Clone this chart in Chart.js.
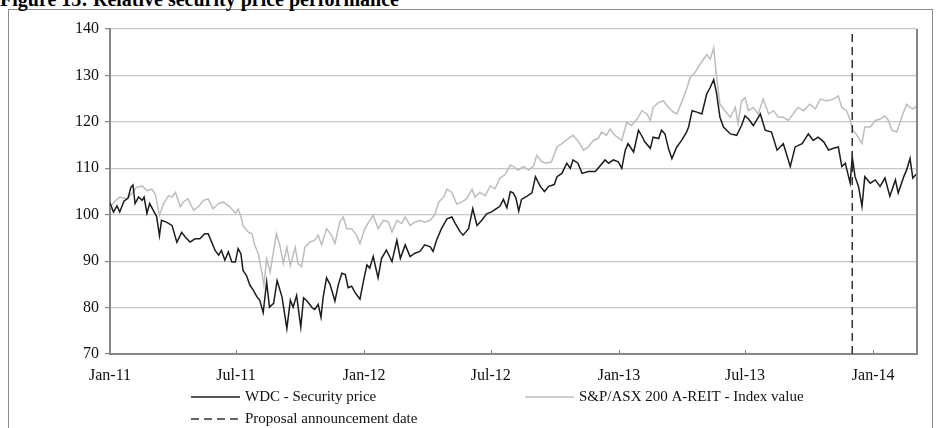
<!DOCTYPE html>
<html>
<head>
<meta charset="utf-8">
<title>Relative security price performance</title>
<script src="https://cdn.jsdelivr.net/npm/chart.js@4.4.1/dist/chart.umd.min.js"></script>
<style>
  html, body { margin: 0; padding: 0; background: #fff; }
  #wrap { position: relative; width: 941px; height: 428px; overflow: hidden; }
  #frame { position: absolute; left: 8px; top: 9px; width: 925px; height: 440px; border: 1px solid #8c8c8c; box-sizing: border-box; }
  #title { position: absolute; left: 0; top: -11px; font: bold 20px "Liberation Serif", "Times New Roman", serif; line-height: 20px; color: #000; white-space: nowrap; }
  #chart { position: absolute; left: 0; top: 0; }
</style>
</head>
<body>
<div id="wrap">
  <div id="frame"></div>
  <div id="title">Figure 13: Relative security price performance</div>
  <canvas id="chart" width="941" height="428"></canvas>
</div>
<script>
// Days counted from 1 Jan 2011
const tickDays = [0, 181, 365, 547, 731, 912, 1096];
const tickLabels = ['Jan-11', 'Jul-11', 'Jan-12', 'Jul-12', 'Jan-13', 'Jul-13', 'Jan-14'];
const lastDay = 1159;
const announcementDay = 1066;

// WDC - Security price (rebased to 100)
const wdcDays = [0, 5, 10, 14, 20, 26, 30, 33, 36, 41, 46, 49, 53, 57, 62, 67, 71, 74, 81, 89,
  96, 103, 108, 115, 122, 129, 136, 141, 146, 151, 156, 160, 165, 170, 175, 180, 184, 188, 191, 196,
  201, 206, 211, 215, 220, 225, 229, 235, 240, 247, 254, 259, 263, 268, 274, 278, 283, 290, 294, 299,
  303, 306, 311, 316, 323, 328, 333, 338, 342, 347, 352, 359, 364, 369, 373, 378, 385, 390, 397, 405,
  412, 417, 424, 431, 438, 445, 452, 460, 464, 469, 476, 484, 491, 496, 503, 507, 515, 521, 527, 534,
  541, 548, 555, 560, 565, 570, 575, 579, 583, 587, 591, 599, 606, 611, 618, 624, 630, 638, 642, 649,
  656, 661, 665, 672, 678, 687, 697, 701, 711, 716, 723, 730, 735, 740, 744, 752, 759, 764, 768, 776,
  780, 788, 792, 797, 802, 807, 814, 821, 828, 831, 836, 843, 850, 857, 862, 867, 871, 876, 881, 891,
  900, 907, 912, 917, 924, 934, 941, 950, 958, 967, 977, 984, 994, 1003, 1010, 1017, 1025, 1032, 1039, 1046,
  1051, 1056, 1063, 1066, 1070, 1075, 1080, 1084, 1092, 1099, 1106, 1113, 1120, 1128, 1132, 1140, 1144, 1149, 1153, 1159];
const wdcValues = [102.5, 100.6, 101.9, 100.6, 102.9, 103.6, 105.9, 106.4, 102.4, 103.8, 103.1, 103.8, 100.3, 102.4, 101, 99.6, 95.5, 98.8, 98.4, 97.7,
  94.1, 96.2, 95.2, 94.1, 94.8, 94.8, 95.9, 95.9, 94.1, 92.3, 91.3, 92.3, 90.2, 92, 89.8, 89.8, 92.7, 91.6, 88, 86.9,
  84.8, 83.7, 82.3, 81.6, 78.9, 85.5, 80.1, 80.9, 85.8, 82.3, 75.5, 81.6, 80.1, 82.6, 75.8, 82.1, 81.4, 80, 79.6, 80.7,
  77.9, 82.1, 86.4, 85, 81.4, 85, 87.4, 87.1, 84.3, 84.6, 83.2, 81.8, 85.7, 89.2, 88.5, 91, 86.4, 90.6, 92.4, 89.9,
  94.5, 90.6, 93.5, 91, 91.7, 92.1, 93.5, 93.1, 92.1, 94.5, 97, 99.1, 99.5, 98.1, 96.3, 95.6, 97, 101.3, 97.7, 98.8,
  100.2, 100.6, 101.3, 101.8, 103.3, 101.5, 105, 104.7, 103.6, 100.8, 103.3, 104, 104.7, 108.2, 106.1, 105, 106.1, 106.5, 108.2, 108.9,
  111.1, 110, 111.8, 111.1, 108.9, 109.3, 109.3, 110, 111.8, 111.1, 111.8, 111.4, 110, 113.9, 115.3, 113.5, 118.2, 116.9, 115.7, 114.3,
  116.7, 116.4, 118.2, 117.4, 114.3, 112.1, 114.6, 116, 117.8, 118.9, 122.4, 122.1, 121.7, 126, 127.4, 129.1, 126.3, 121, 118.9, 117.4,
  117.1, 119.2, 121.3, 120.6, 119.2, 121.7, 118.2, 117.8, 113.9, 115.3, 110.4, 114.6, 115.3, 117.4, 116, 116.7, 115.7, 113.9, 114.3, 114.6,
  110.4, 111.1, 106.8, 112.5, 108.2, 106.1, 101.8, 108.2, 106.8, 107.5, 106.1, 107.9, 104, 107.5, 104.7, 108.2, 109.6, 112.1, 107.9, 108.9];

// S&P/ASX 200 A-REIT - Index value (rebased to 100)
const reitDays = [0, 7, 14, 24, 31, 38, 46, 53, 60, 65, 71, 77, 84, 89, 94, 101, 105, 112, 120, 127,
  134, 141, 148, 156, 163, 172, 180, 184, 188, 191, 199, 204, 208, 213, 218, 221, 225, 230, 235, 239,
  244, 249, 254, 259, 266, 270, 275, 280, 287, 294, 299, 304, 311, 318, 323, 330, 335, 340, 347, 354,
  359, 366, 373, 378, 385, 393, 400, 405, 412, 419, 424, 431, 438, 445, 452, 460, 467, 472, 479, 484,
  491, 498, 505, 512, 520, 524, 531, 539, 546, 553, 560, 567, 575, 579, 586, 594, 601, 608, 613, 620,
  627, 634, 642, 649, 658, 665, 673, 680, 687, 694, 701, 706, 713, 718, 725, 735, 742, 749, 757, 764,
  771, 776, 780, 788, 795, 802, 809, 814, 821, 828, 833, 840, 847, 857, 862, 867, 871, 876, 883, 891,
  898, 902, 907, 912, 917, 924, 931, 938, 946, 953, 960, 967, 974, 981, 988, 996, 1005, 1013, 1020, 1029,
  1039, 1046, 1051, 1058, 1063, 1067, 1073, 1080, 1084, 1092, 1099, 1106, 1113, 1118, 1123, 1130, 1137, 1144, 1149, 1154, 1159];
const reitValues = [101.5, 102.9, 103.8, 103.4, 104.5, 105.9, 106.2, 105.2, 105.5, 104.5, 99.9, 102.4, 104.1, 103.8, 104.8, 101.7, 102.7, 103.4, 101, 101.7,
  103.1, 103.4, 101.3, 102.4, 102.7, 101.7, 100.3, 101.2, 99.6, 97.7, 96.2, 95.9, 93.4, 91.6, 87.6, 84.8, 90.5, 87.6, 92.3, 95.9,
  93.4, 89.5, 93, 89.1, 93, 89.5, 88.8, 93, 94.1, 94.5, 95.6, 93.5, 97, 95.6, 93.8, 98.4, 99.5, 97, 97, 95.6,
  93.8, 97, 98.8, 99.9, 97, 98.8, 98.4, 96.3, 98.8, 98.1, 99.5, 97.7, 98.4, 98.8, 98.4, 98.8, 100.2, 102.7, 103.8, 105.5,
  104.8, 102.3, 102.7, 103.4, 105.5, 103.8, 104.8, 104.1, 106.2, 105.6, 107.9, 108.6, 110.7, 110.4, 109.6, 110.4, 109.6, 110.4, 112.8, 111.4,
  111.1, 111.4, 114.6, 115.3, 116.4, 117.1, 115.7, 113.9, 114.6, 116, 116.4, 117.8, 117.1, 118.5, 117.1, 116, 119.9, 119.2, 120.6, 122.4,
  121.7, 120.3, 123.1, 124.2, 124.5, 123.1, 122.1, 121.7, 124.2, 127, 129.5, 130.6, 132.3, 134.5, 133.5, 135.9, 129.9, 123.8, 122.4, 121,
  123.1, 119.6, 124.5, 125.2, 122.4, 123.1, 121.7, 124.9, 121.7, 122.4, 121, 121, 120.3, 121.7, 123.1, 122.4, 123.8, 122.8, 124.9, 124.5,
  124.9, 125.6, 123.1, 122.4, 120.3, 118.2, 117.1, 115.3, 118.9, 118.9, 120.3, 120.6, 121.3, 120.3, 118.2, 117.8, 121, 123.8, 123.1, 122.8, 123.5];

const serif = '"Liberation Serif", "Times New Roman", serif';

// inward x ticks, right border and the legend (laid out like the Excel original)
const decorPlugin = {
  id: 'decor',
  afterDraw(chart) {
    const { ctx, chartArea: a, scales } = chart;
    ctx.save();
    ctx.strokeStyle = '#868686';
    ctx.lineWidth = 2;
    ctx.beginPath();
    ctx.moveTo(a.right, a.top);
    ctx.lineTo(a.right, a.bottom + 1);
    ctx.stroke();

    ctx.lineWidth = 1;
    ctx.beginPath();
    tickDays.forEach(d => {
      const x = Math.round(scales.x.getPixelForValue(d)) + 0.5;
      ctx.moveTo(x, a.bottom);
      ctx.lineTo(x, a.bottom - 4);
    });
    ctx.stroke();

    const slots = [[191, 397], [525, 397], [191, 419]];
    ctx.font = '15px ' + serif;
    ctx.textBaseline = 'middle';
    ctx.fillStyle = '#111';
    chart.data.datasets.forEach((ds, i) => {
      const [x, y] = slots[i];
      ctx.strokeStyle = ds.borderColor;
      ctx.lineWidth = ds.borderWidth;
      ctx.setLineDash(ds.borderDash || []);
      ctx.beginPath();
      ctx.moveTo(x, y);
      ctx.lineTo(x + 49, y);
      ctx.stroke();
      ctx.setLineDash([]);
      ctx.fillText(ds.label, x + 54, y);
    });
    ctx.restore();
  }
};

new Chart(document.getElementById('chart'), {
  type: 'line',
  data: {
    datasets: [
      {
        label: 'WDC - Security price',
        data: wdcDays.map((d, i) => ({ x: d, y: wdcValues[i] })),
        borderColor: '#1c1c1c',
        borderWidth: 1.5,
        order: 1
      },
      {
        label: 'S&P/ASX 200 A-REIT - Index value',
        data: reitDays.map((d, i) => ({ x: d, y: reitValues[i] })),
        borderColor: '#bdbdbd',
        borderWidth: 1.5,
        order: 2
      },
      {
        label: 'Proposal announcement date',
        data: [{ x: announcementDay, y: 70 }, { x: announcementDay, y: 140 }],
        borderColor: '#333',
        borderWidth: 1.5,
        borderDash: [8, 5],
        order: 0
      }
    ]
  },
  options: {
    responsive: false,
    animation: false,
    events: [],
    elements: { point: { radius: 0 }, line: { tension: 0 } },
    layout: { padding: { left: 0, top: 29, right: 24, bottom: 0 } },
    plugins: { legend: { display: false }, tooltip: { enabled: false } },
    scales: {
      x: {
        type: 'linear',
        min: 0,
        max: lastDay,
        afterBuildTicks: axis => { axis.ticks = tickDays.map(v => ({ value: v })); },
        afterFit: axis => { axis.height = 74; },
        grid: { display: false, drawTicks: false },
        border: { display: true, color: '#868686', width: 2 },
        ticks: {
          autoSkip: false,
          maxRotation: 0,
          padding: 12,
          color: '#111',
          font: { family: serif, size: 16 },
          callback: v => tickLabels[tickDays.indexOf(v)]
        }
      },
      y: {
        min: 70,
        max: 140,
        afterFit: axis => { axis.width = 110; },
        grid: { color: '#c6c6c6', lineWidth: 1.2, tickLength: 5, tickColor: '#868686' },
        border: { display: true, color: '#868686', width: 2 },
        ticks: {
          stepSize: 10,
          padding: 6,
          color: '#111',
          font: { family: serif, size: 16 }
        }
      }
    }
  },
  plugins: [decorPlugin]
});
</script>
</body>
</html>
